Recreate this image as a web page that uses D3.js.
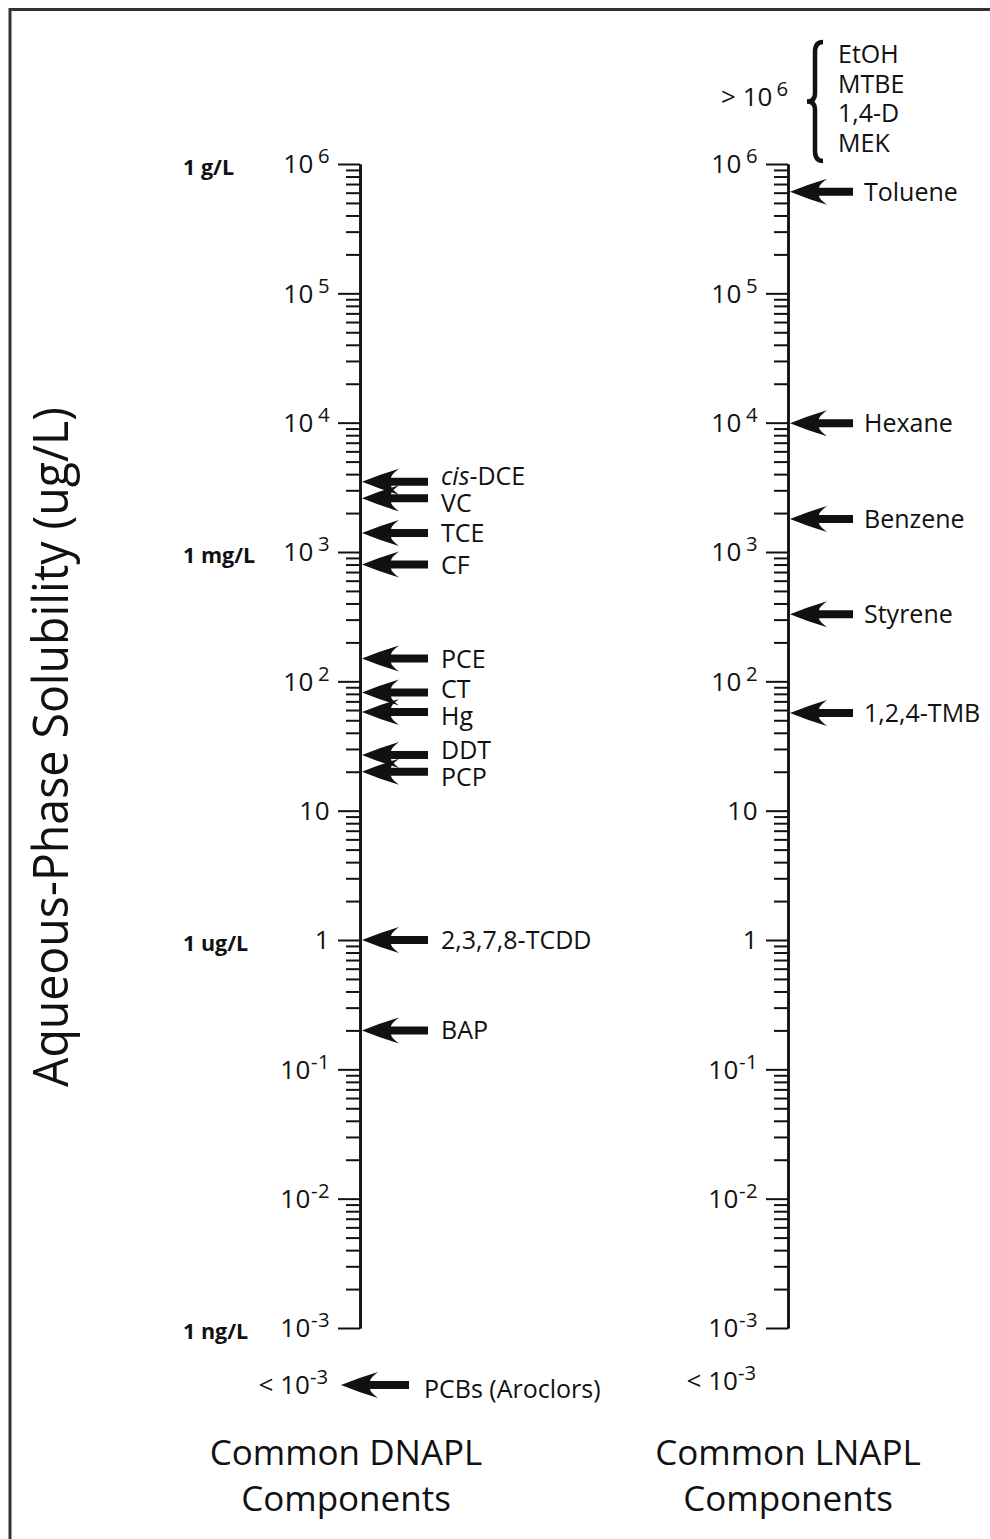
<!DOCTYPE html>
<html>
<head>
<meta charset="utf-8">
<script src="https://cdn.jsdelivr.net/npm/d3@7"></script>
<style>
  body { margin: 0; background: #fff; }
  svg { display: block; }
  text { font-family: "Open Sans", "Noto Sans", sans-serif; fill: #111; }
</style>
</head>
<body>
<div id="chart"></div>
<script>
// data (solubility in ug/L)
const dnaplNames  = ["cis-DCE", "VC", "TCE", "CF", "PCE", "CT", "Hg", "DDT", "PCP", "2,3,7,8-TCDD", "BAP"];
const dnaplValues = [3500, 2600, 1400, 800, 150, 82, 58, 27, 20, 1, 0.2];
const dnaplBelow  = ["PCBs (Aroclors)"];   // < 10^-3

const lnaplNames  = ["Toluene", "Hexane", "Benzene", "Styrene", "1,2,4-TMB"];
const lnaplValues = [610000, 9900, 1800, 330, 57];
const lnaplAbove  = ["EtOH", "MTBE", "1,4-D", "MEK"];  // > 10^6

const unitLabels = ["1 g/L", "1 mg/L", "1 ug/L", "1 ng/L"];
const unitValues = [1e6, 1e3, 1, 1e-3];

const domainMax = 1e6, domainMin = 1e-3;

// page size
const width = 990, height = 1539;
const axisLeftX = 360, axisRightX = 788;

const svg = d3.select("#chart")
  .append("svg")
    .attr("width", width)
    .attr("height", height);

// frame (only top and left show in the crop)
svg.append("path")
  .attr("d", `M10,${height} V9.5 H${width}`)
  .attr("fill", "none")
  .attr("stroke", "#333")
  .attr("stroke-width", 3);

const y = d3.scaleLog()
  .domain([domainMax, domainMin])
  .range([164, 1328]);

const allTicks = y.ticks();
const isMajor = v => Math.abs(Math.log10(v) - Math.round(Math.log10(v))) < 1e-9;
const majorTicks = allTicks.filter(isMajor);
const minorTicks = allTicks.filter(v => !isMajor(v));

// writes 10 with a raised exponent into a text node
function powerText(sel, k, prefix) {
  if (prefix) sel.append("tspan").text(prefix);
  if (k === 0) { sel.append("tspan").text("1"); return; }
  sel.append("tspan").text("10");
  if (k === 1) return;
  sel.append("tspan")
    .attr("dy", "-0.5em")
    .attr("dx", k > 0 ? 4 : 0)
    .attr("font-size", "0.78em")
    .text(k < 0 ? "-" + Math.abs(k) : k);
}

function drawAxis(x) {
  const g = svg.append("g").attr("transform", `translate(${x},0)`);

  g.append("g")
    .call(d3.axisLeft(y).tickValues(minorTicks).tickSize(14).tickSizeOuter(0).tickFormat(""));
  g.append("g")
    .call(d3.axisLeft(y).tickValues(majorTicks).tickSize(22).tickSizeOuter(0).tickFormat(""));

  g.selectAll(".domain").attr("stroke", "#111").attr("stroke-width", 2.5);
  g.selectAll(".tick line").attr("stroke", "#111").attr("stroke-width", 2);

  majorTicks.forEach(v => {
    const t = g.append("text")
      .attr("x", -30)
      .attr("y", y(v))
      .attr("dy", "0.36em")
      .attr("text-anchor", "end")
      .attr("font-size", "26px")
      .attr("letter-spacing", "0.5px");
    powerText(t, Math.round(Math.log10(v)));
  });
  return g;
}

drawAxis(axisLeftX);
drawAxis(axisRightX);

// left pointing arrow, tip at (0,0)
function arrowPath(len) {
  return `M0,0 Q17,-7 37,-13 Q29,-7 29,-4 L${len},-4 L${len},4 L29,4 Q29,7 37,13 Q17,7 0,0 Z`;
}

// push labels apart so they do not collide
function dodge(ys, gap) {
  const out = ys.slice();
  for (let it = 0; it < 50; it++) {
    for (let i = 1; i < out.length; i++) {
      const d = out[i] - out[i - 1];
      if (d < gap) {
        const s = (gap - d) / 2;
        out[i - 1] -= s;
        out[i] += s;
      }
    }
  }
  return out;
}

function drawArrows(names, values, axisX, len, labelX) {
  const ys = values.map(v => y(v));
  const ly = dodge(ys, 27);

  svg.append("g").selectAll("path")
    .data(values)
    .join("path")
      .attr("transform", d => `translate(${axisX + 2},${y(d)})`)
      .attr("d", arrowPath(len))
      .attr("fill", "#111");

  svg.append("g").selectAll("text")
    .data(names)
    .join("text")
      .attr("x", labelX)
      .attr("y", (d, i) => ly[i])
      .attr("dy", "0.36em")
      .attr("font-size", "25px")
      .each(function(d) {
        const t = d3.select(this);
        if (d.startsWith("cis-")) {
          t.append("tspan").attr("font-style", "italic").text("cis");
          t.append("tspan").text(d.slice(3));
        } else {
          t.text(d);
        }
      });
}

drawArrows(dnaplNames, dnaplValues, axisLeftX, 66, 441);
drawArrows(lnaplNames, lnaplValues, axisRightX, 63, 864);

// below the scale: PCBs
const lowY = y(domainMin) + 57;
svg.append("text")
  .attr("x", 328).attr("y", lowY).attr("dy", "0.36em")
  .attr("text-anchor", "end").attr("font-size", "26px")
  .call(t => powerText(t, -3, "< "));
svg.append("path")
  .attr("transform", `translate(341,${lowY})`)
  .attr("d", arrowPath(68))
  .attr("fill", "#111");
svg.append("text")
  .attr("x", 424).attr("y", lowY + 4).attr("dy", "0.36em")
  .attr("font-size", "25px")
  .text(dnaplBelow[0]);

svg.append("text")
  .attr("x", 756).attr("y", lowY - 4).attr("dy", "0.36em")
  .attr("text-anchor", "end").attr("font-size", "26px")
  .call(t => powerText(t, -3, "< "));

// above the scale: brace and list
const braceTop = 42, braceBot = 161, braceMid = (braceTop + braceBot) / 2;
svg.append("text")
  .attr("x", 788).attr("y", braceMid - 5).attr("dy", "0.36em")
  .attr("text-anchor", "end").attr("font-size", "26px")
  .call(t => powerText(t, 6, "> "));
svg.append("path")
  .attr("d", `M823,${braceTop} Q815,${braceTop} 815,${braceTop + 10} L815,${braceMid - 8} Q815,${braceMid} 807,${braceMid}
              Q815,${braceMid} 815,${braceMid + 8} L815,${braceBot - 10} Q815,${braceBot} 823,${braceBot}`)
  .attr("fill", "none")
  .attr("stroke", "#111")
  .attr("stroke-width", 4.5);
svg.append("g").selectAll("text")
  .data(lnaplAbove)
  .join("text")
    .attr("x", 838)
    .attr("y", (d, i) => 54 + i * 29.5)
    .attr("dy", "0.36em")
    .attr("font-size", "25px")
    .text(d => d);

// unit reference labels
svg.append("g").selectAll("text")
  .data(unitLabels)
  .join("text")
    .attr("x", 183)
    .attr("y", (d, i) => y(unitValues[i]) + 3)
    .attr("dy", "0.36em")
    .attr("font-size", "21.5px")
    .attr("font-weight", "bold")
    .text(d => d);

// y title
svg.append("text")
  .attr("transform", "translate(68,747) rotate(-90)")
  .attr("text-anchor", "middle")
  .attr("font-size", "50px")
  .attr("textLength", 680)
  .attr("lengthAdjust", "spacingAndGlyphs")
  .text("Aqueous-Phase Solubility (ug/L)");

// column titles
[[axisLeftX - 14, "Common DNAPL"], [axisRightX, "Common LNAPL"]].forEach(([cx, t]) => {
  const g = svg.append("g").attr("font-size", "35px").attr("text-anchor", "middle");
  g.append("text").attr("x", cx).attr("y", 1465).text(t);
  g.append("text").attr("x", cx).attr("y", 1511).text("Components");
});
</script>
</body>
</html>
